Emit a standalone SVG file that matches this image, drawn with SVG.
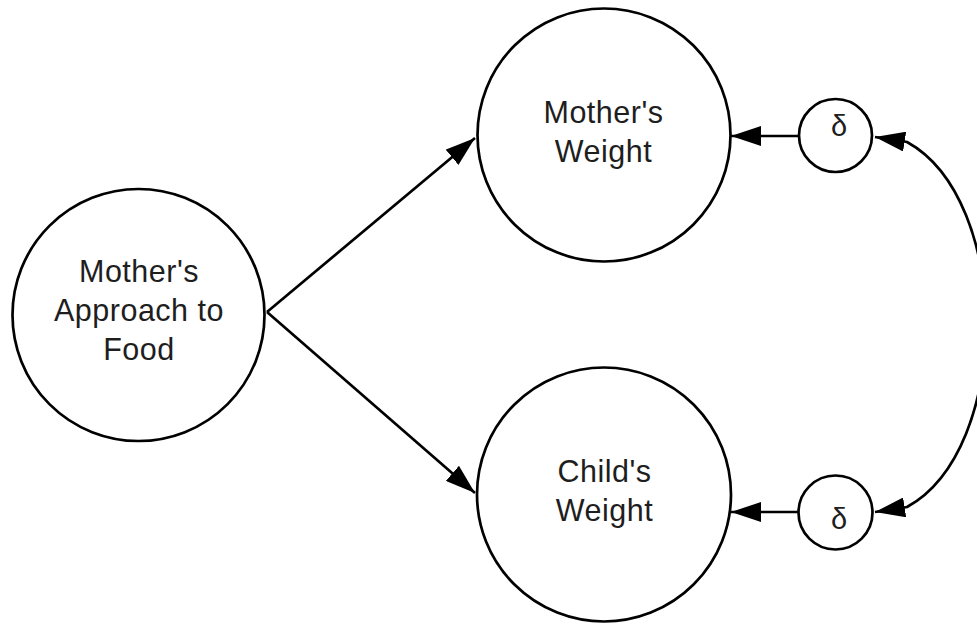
<svg xmlns="http://www.w3.org/2000/svg" width="977" height="624" viewBox="0 0 977 624">
  <style>
    .node { fill: #ffffff; stroke: #000000; stroke-width: 2.7; }
    .label { font-family: "Liberation Sans", Arial, sans-serif; font-size: 30.5px; letter-spacing: 0.5px; fill: #1e1e1e; text-anchor: middle; }
    .delta { font-family: "Liberation Sans", Arial, sans-serif; font-size: 29px; fill: #1e1e1e; text-anchor: middle; }
    .edge { fill: none; stroke: #000000; stroke-width: 2.7; }
  </style>
  <defs>
    <marker id="arrow" markerUnits="userSpaceOnUse" viewBox="0 0 30 20" refX="30" refY="10" markerWidth="30" markerHeight="20" orient="auto-start-reverse">
      <path d="M0,0 L30,10 L0,20 Z" fill="#000000"/>
    </marker>
  </defs>
  <rect width="977" height="624" fill="#ffffff"/>

  <g id="connectors">
    <line class="edge" x1="267" y1="312" x2="475" y2="138" marker-end="url(#arrow)"/>
    <line class="edge" x1="267" y1="312" x2="475" y2="493" marker-end="url(#arrow)"/>
    <line class="edge" x1="799" y1="136" x2="731" y2="136" marker-end="url(#arrow)"/>
    <line class="edge" x1="799" y1="512" x2="731" y2="512" marker-end="url(#arrow)"/>
    <path class="edge" d="M875,137 L907,142 C1012,200 1012,449 907,507 L875,512" marker-start="url(#arrow)" marker-end="url(#arrow)"/>
  </g>

  <g id="node-approach">
    <circle class="node" cx="138.5" cy="315" r="126"/>
    <text class="label" x="139" y="282">Mother's</text>
    <text class="label" x="139" y="321">Approach to</text>
    <text class="label" x="139" y="360">Food</text>
  </g>

  <g id="node-mother-weight">
    <circle class="node" cx="604" cy="135" r="126.5"/>
    <text class="label" x="603.5" y="123">Mother's</text>
    <text class="label" x="603.5" y="162">Weight</text>
  </g>

  <g id="node-child-weight">
    <circle class="node" cx="604" cy="494.5" r="127"/>
    <text class="label" x="604.5" y="482">Child's</text>
    <text class="label" x="604.5" y="521">Weight</text>
  </g>

  <g id="node-delta-mother">
    <circle class="node" cx="835.5" cy="135.5" r="36.5"/>
    <text class="delta" x="839" y="135.5">δ</text>
  </g>

  <g id="node-delta-child">
    <circle class="node" cx="835.5" cy="512.5" r="37"/>
    <text class="delta" x="839" y="528.5">δ</text>
  </g>
</svg>
